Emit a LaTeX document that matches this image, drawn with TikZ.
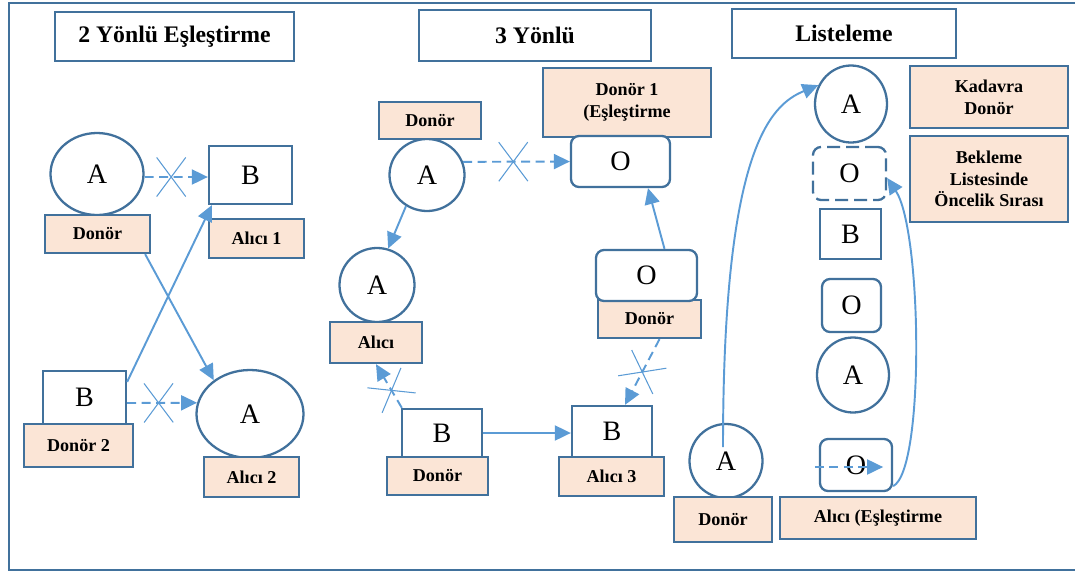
\documentclass[tikz,border=0pt]{standalone}
\usepackage{fontspec}
\setmainfont{Liberation Serif}
\usetikzlibrary{arrows.meta,shapes.geometric,shapes.misc,calc}
\definecolor{bxBlue}{RGB}{65,113,156}
\definecolor{arBlue}{RGB}{91,155,213}
\definecolor{tagFill}{RGB}{251,229,214}

\begin{document}
\begin{tikzpicture}[x=0.2mm,y=-0.2mm,
    sz/.style 2 args={minimum width=#1*0.2mm,minimum height=#2*0.2mm},
    ttl/.style={draw=bxBlue,line width=1.3pt,inner sep=0pt,font=\bfseries\fontsize{13.5}{16}\selectfont},
    tag/.style={draw=bxBlue,line width=1.3pt,fill=tagFill,inner sep=0pt,align=center,
                font=\bfseries\fontsize{10.3}{12.3}\selectfont},
    sq/.style={draw=bxBlue,line width=1.3pt,fill=white,inner sep=0pt,font=\fontsize{16}{18}\selectfont},
    rsq/.style={sq,rounded corners=1.6mm},
    circ/.style={sq,ellipse},
    arr/.style={draw=arBlue,line width=1.1pt,-{Triangle[length=3.2mm,width=3mm]}},
    dasharr/.style={arr,dash pattern=on 1.8mm off 1.1mm},
    xmark/.style={-,solid,draw=arBlue,line width=0.6pt,cross out,inner sep=0pt,sloped,
                  minimum width=5.6mm,minimum height=7.6mm}]
  \useasboundingbox (0,0) rectangle (1075,572);
  \draw[bxBlue,line width=1.3pt] (1075,3) -- (9,3) -- (9,570) -- (1075,570);

  \node[ttl,sz={239}{49}] (t2) at (174.5,36.5) {2 Yönlü Eşleştirme};
  \node[ttl,sz={232}{51}] (t3) at (535,35.5) {3 Yönlü};
  \node[ttl,sz={224}{49}] (tL) at (844,33.5) {Listeleme};

  \node[circ,sz={93}{82}] (aDon) at (97,174) {A};
  \node[tag,sz={105}{38}] (donA) at (97.5,234) {Donör};
  \node[sq,sz={83}{58}] (bAl1) at (250.5,175) {B};
  \node[tag,sz={95}{39}] (al1) at (256.5,238.5) {Alıcı 1};
  \node[sq,sz={83}{53}] (bDon2) at (84.5,397.5) {B};
  \node[tag,sz={109}{43}] (don2) at (78.5,445.5) {Donör 2};
  \node[circ,sz={107}{88}] (aAl2) at (250,414) {A};
  \node[tag,sz={95}{40}] (al2) at (251.5,477) {Alıcı 2};
  \draw[dasharr] ([yshift=-0.6mm]aDon.east) -- node[xmark,pos=0.42]{} ([yshift=-0.4mm]bAl1.west);
  \draw[arr] ([xshift=-1.2mm]donA.south east) -- (aAl2.137);
  \draw[arr] ([yshift=-2.4mm]bDon2.north east) -- ([xshift=0.8mm]bAl1.south west);
  \draw[dasharr] ([yshift=-1.1mm]bDon2.east) -- node[xmark,pos=0.45]{} (aAl2.168);

  \node[circ,sz={75}{72}] (aTop) at (427,175) {A};
  \node[tag,sz={102}{37}] (donT) at (430,120.5) {Donör};
  \node[tag,sz={168}{69}] (don1) at (627,102.5) {Donör 1\\(Eşleştirme};
  \node[rsq,sz={99}{51}] (oTop) at (620.5,161.5) {O};
  \node[circ,sz={75}{74}] (aAl) at (377,285) {A};
  \node[tag,sz={92}{41}] (al) at (376,342.5) {Alıcı};
  \node[tag,sz={103}{38}] (donM) at (649.5,319) {Donör};
  \node[rsq,sz={101}{51}] (oMid) at (646.5,275.5) {O};
  \node[sq,sz={80}{48}] (bDon) at (442,433) {B};
  \node[tag,sz={101}{38}] (donB) at (437.5,476) {Donör};
  \node[sq,sz={80}{51}] (bAl3) at (612,431.5) {B};
  \node[tag,sz={105}{39}] (al3) at (611.5,476.5) {Alıcı 3};
  \draw[dasharr] (aTop.20) -- node[xmark,pos=0.47]{} (oTop.west);
  \draw[arr] (aTop.236) -- (aAl.73);
  \draw[arr] ([xshift=3.6mm]oMid.north) -- ([xshift=5.5mm]oTop.south);
  \draw[arr] (bDon.east) -- (bAl3.west |- bDon.east);
  \draw[dasharr] ([xshift=0.2mm]bDon.north west) -- node[xmark,pos=0.4]{} (al.south);
  \draw[dasharr] ([xshift=2mm]donM.south) -- node[xmark]{} ([xshift=2.6mm]bAl3.north);

  \node[circ,sz={72}{77}] (aCad) at (851,104) {A};
  \node[tag,sz={158}{62}] (kad) at (989,97) {Kadavra\\Donör};
  \node[tag,sz={158}{86}] (bek) at (989,179) {Bekleme\\Listesinde\\Öncelik Sırası};
  \node[rsq,dash pattern=on 2.6mm off 1.2mm,sz={73}{53}] (oDash) at (849.5,173.5) {O};
  \node[sq,sz={61}{50}] (bL) at (850.5,234) {B};
  \node[rsq,sz={59}{53}] (oL) at (851.5,305.5) {O};
  \node[circ,sz={72}{75}] (aL) at (853,375) {A};
  \node[rsq,sz={72}{52}] (oBot) at (856,465) {O};
  \node[circ,sz={73}{74}] (aDonL) at (726,461) {A};
  \node[tag,sz={98}{45}] (donL) at (723,519.5) {Donör};
  \node[tag,sz={196}{42}] (alE) at (878,518) {Alıcı (Eşleştirme};
  \draw[arr] ([shift={(-0.6mm,2.8mm)}]aDonL.center) .. controls (723,150) and (770,105) .. (aCad.150);
  \draw[arr] ([yshift=1.2mm]oBot.south east) .. controls (925,470) and (922,230) .. ([yshift=-0.9mm]oDash.east);
  \draw[dasharr] ([shift={(-0.8mm,-0.4mm)}]oBot.west) -- ([shift={(-2mm,-0.4mm)}]oBot.east);
\end{tikzpicture}
\end{document}
